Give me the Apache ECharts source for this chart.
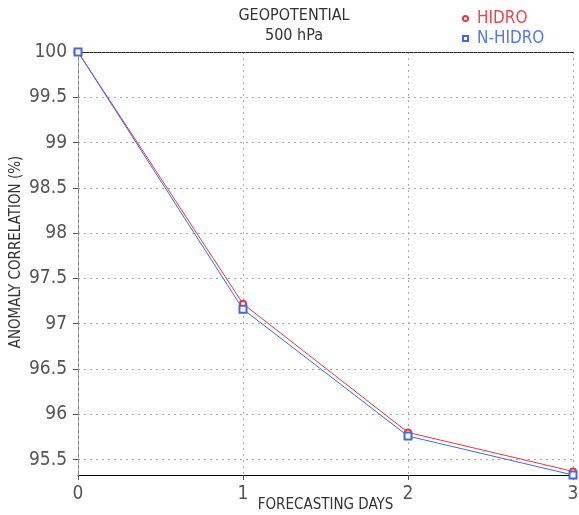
<!DOCTYPE html>
<html><head><meta charset="utf-8">
<script src="https://cdn.jsdelivr.net/npm/echarts@6/dist/echarts.min.js"></script>
<style>html,body{margin:0;padding:0;background:#fff}#c{width:579px;height:515px}</style>
</head><body><div id="c"></div>
<script>
const days = [0, 1, 2, 3];
const hidro = [100, 97.22, 95.80, 95.37];
const nhidro = [100, 97.16, 95.76, 95.33];
const yTicks = [95.5, 96, 96.5, 97, 97.5, 98, 98.5, 99, 99.5, 100];
const xTicks = [0, 1, 2, 3];
const FONT = '"Liberation Sans Narrow", "DejaVu Sans Condensed", sans-serif';

const chart = echarts.init(document.getElementById('c'));
chart.setOption({
  animation: false,
  backgroundColor: '#fff',
  title: {
    text: 'GEOPOTENTIAL\n500 hPa',
    left: 294, top: 6, padding: 0, textAlign: 'center',
    textStyle: { fontFamily: FONT, fontSize: 16, fontWeight: 'normal', color: '#333', lineHeight: 20 }
  },
  legend: {
    orient: 'vertical', left: 462, top: 10, padding: 0, itemWidth: 5, itemHeight: 5, itemGap: 3,
    textStyle: { fontFamily: FONT, fontSize: 17, padding: [0, 0, 0, 4] },
    data: [
      { name: 'HIDRO', icon: 'emptyCircle', textStyle: { color: '#ee4455' } },
      { name: 'N-HIDRO', icon: 'emptyRect', textStyle: { color: '#5577ee' } }
    ]
  },
  graphic: [{
    type: 'text', x: 16, y: 252, rotation: Math.PI / 2,
    style: { text: 'ANOMALY CORRELATION (%)', align: 'center', verticalAlign: 'middle',
      font: '15px ' + FONT, fill: '#333' }
  }],
  grid: { left: 78, right: 6, top: 52, bottom: 40, outerBoundsMode: 'none', containLabel: false },
  xAxis: [{
    type: 'value', min: 0, max: 3, interval: 1, position: 'bottom',
    name: 'FORECASTING DAYS', nameLocation: 'middle', nameGap: 23, nameMoveOverlap: false,
    nameTextStyle: { fontFamily: FONT, fontSize: 15, color: '#333' },
    axisLine: { lineStyle: { color: '#000', width: 1 } },
    axisTick: { show: true, length: 5, lineStyle: { color: '#555' } },
    axisLabel: { fontFamily: FONT, fontSize: 19, color: '#555', margin: 10,
      customValues: xTicks },
    splitLine: { show: true, lineStyle: { color: '#aaa', type: [2, 4] } }
  }, {
    type: 'value', min: 0, max: 3, position: 'top',
    axisLine: { show: true, lineStyle: { color: '#222', type: [3, 1] } },
    axisTick: { show: false }, axisLabel: { show: false }, splitLine: { show: false }
  }],
  yAxis: [{
    type: 'value', min: 95.33, max: 100, position: 'left',
    axisLine: { show: true, lineStyle: { color: '#999', type: [4, 2] } },
    axisTick: { show: true, length: 5, lineStyle: { color: '#555' }, customValues: yTicks },
    axisLabel: { fontFamily: FONT, fontSize: 19, color: '#555', margin: 11, customValues: yTicks,
      formatter: v => String(+v.toFixed(1)) },
    splitLine: { show: true, lineStyle: { color: '#aaa', type: [2, 4] } }
  }, {
    type: 'value', min: 95.33, max: 100, position: 'right',
    axisLine: { show: true, lineStyle: { color: '#888', type: [4, 2] } },
    axisTick: { show: false }, axisLabel: { show: false }, splitLine: { show: false }
  }],
  series: [{
    name: 'HIDRO', type: 'line', xAxisIndex: 0, yAxisIndex: 0,
    data: days.map((d, i) => [d, hidro[i]]),
    symbol: 'emptyCircle', symbolSize: 6,
    lineStyle: { color: '#ee3344', width: 1 },
    itemStyle: { color: '#ee3344', borderColor: '#ee3344', borderWidth: 1 }
  }, {
    name: 'N-HIDRO', type: 'line', xAxisIndex: 0, yAxisIndex: 0,
    data: days.map((d, i) => [d, nhidro[i]]),
    symbol: 'emptyRect', symbolSize: 7,
    lineStyle: { color: '#4466ee', width: 1 },
    itemStyle: { color: '#4466ee', borderColor: '#4466ee', borderWidth: 1 }
  }]
});
</script></body></html>
